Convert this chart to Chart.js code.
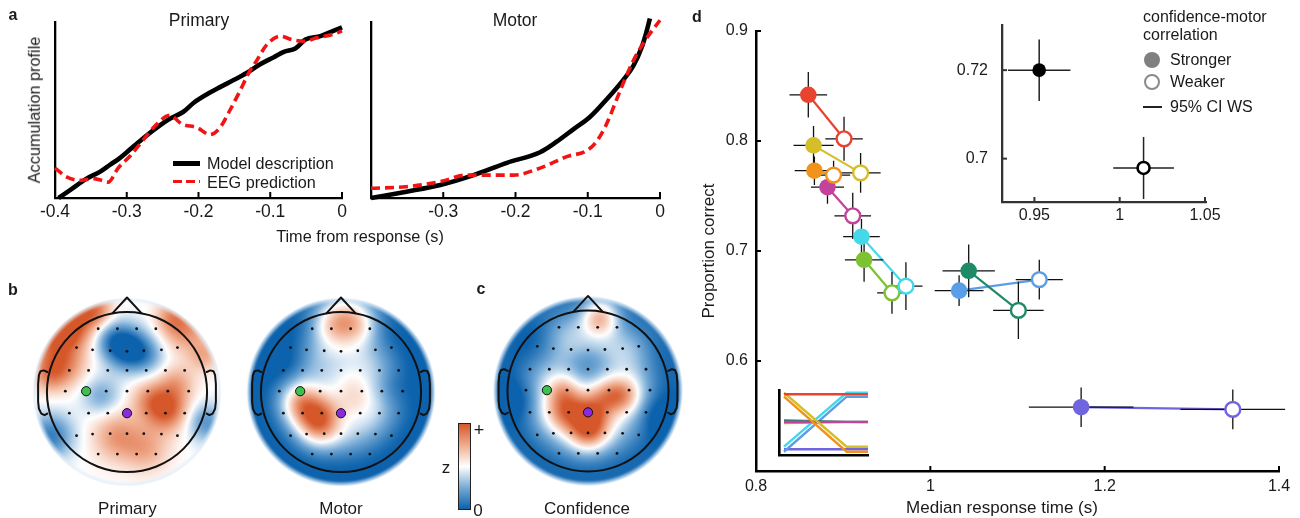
<!DOCTYPE html>
<html><head><meta charset="utf-8">
<script src="https://cdn.jsdelivr.net/npm/chart.js@4.4.1/dist/chart.umd.min.js"></script>
<style>
html,body{margin:0;padding:0;background:#fff;}
body{width:1300px;height:518px;position:relative;overflow:hidden;font-family:"Liberation Sans",Arial,Helvetica,sans-serif;color:#1a1a1a;}
canvas{position:absolute;}
.t{position:absolute;white-space:nowrap;line-height:1;}
.sw{position:absolute;}
</style></head><body>
<script>
// ================= DATA =================
// Panel a – Primary
const aTickVals = [-0.4, -0.3, -0.2, -0.1, 0];
const aTickLabelsPrimary = ['-0.4', '-0.3', '-0.2', '-0.1', '0'];
const aTickLabelsMotor = ['', '-0.3', '-0.2', '-0.1', '0'];
const primModelT = [-0.395,-0.379,-0.356,-0.337,-0.323,-0.312,-0.300,-0.277,-0.258,-0.240,-0.221,-0.207,-0.188,-0.170,-0.151,-0.133,-0.114,-0.095,-0.081,-0.065,-0.051,-0.030,-0.012,0];
const primModelV = [0.0,0.045,0.11,0.15,0.19,0.22,0.26,0.34,0.40,0.45,0.49,0.54,0.59,0.63,0.67,0.71,0.76,0.80,0.83,0.85,0.90,0.92,0.95,0.97];
const primEegT = [-0.4,-0.384,-0.365,-0.347,-0.335,-0.326,-0.312,-0.295,-0.277,-0.258,-0.240,-0.223,-0.202,-0.184,-0.170,-0.156,-0.142,-0.130,-0.119,-0.105,-0.086,-0.070,-0.053,-0.035,-0.012,0];
const primEegV = [0.17,0.12,0.10,0.11,0.10,0.09,0.17,0.24,0.33,0.42,0.47,0.42,0.40,0.36,0.40,0.50,0.61,0.71,0.78,0.87,0.92,0.90,0.89,0.91,0.93,0.95];
// Panel a – Motor
const motModelT = [-0.4,-0.351,-0.304,-0.258,-0.212,-0.166,-0.143,-0.120,-0.097,-0.074,-0.051,-0.037,-0.025,-0.019,-0.014];
const motModelV = [0,0.036,0.074,0.13,0.20,0.26,0.32,0.39,0.46,0.56,0.67,0.75,0.86,0.94,1.02];
const motEegT = [-0.4,-0.351,-0.304,-0.268,-0.235,-0.203,-0.166,-0.129,-0.101,-0.088,-0.074,-0.060,-0.049,-0.037,-0.023,-0.012,0];
const motEegV = [0.055,0.064,0.093,0.13,0.13,0.13,0.17,0.235,0.27,0.32,0.42,0.56,0.67,0.78,0.88,0.945,1.01];

// Panels b/c – electrode layout (head-normalised coordinates)
const elecX = [-0.36,-0.12,0.12,0.36, -0.63,-0.43,-0.21,0,0.21,0.43,0.63, -0.72,-0.48,-0.24,0,0.24,0.48,0.72,
               -0.77,-0.26,0,0.26,0.51,0.77, -0.72,-0.48,-0.24,0.24,0.48,0.72,
               -0.63,-0.43,-0.21,0,0.21,0.43,0.63, -0.36,-0.12,0.12,0.36];
const elecY = [0.79,0.79,0.79,0.79, 0.555,0.527,0.515,0.508,0.515,0.527,0.555, 0.27,0.27,0.27,0.27,0.27,0.27,0.27,
               0.01,0.01,0.01,0.01,0.01,0.01, -0.265,-0.265,-0.265,-0.265,-0.265,-0.265,
               -0.545,-0.525,-0.52,-0.52,-0.52,-0.525,-0.545, -0.775,-0.775,-0.775,-0.775];
const greenElec = [-0.51, 0.01];
const purpleElec = [0, -0.265];
const primBase = [0, 0, 0.5, 1.0];
const primSrcX = [0.0,-0.22,0.25,-0.32,0.5,0.28,0.62,-0.12,0.25,-0.8,-0.6,0.72,-0.95,0.98,-1.0,-0.78,-0.38,-0.98,0.55,0.97];
const primSrcY = [0.55,0.68,0.45,-0.05,-0.22,-0.08,0.12,-0.55,-0.72,0.35,0.88,0.78,-0.55,-0.38,0.6,0.75,1.02,0.2,0.95,0.45];
const primSrcA = [-1.1,-0.5,-0.45,-0.5,0.95,0.45,0.45,0.6,0.45,0.7,0.75,0.65,-0.8,-0.65,0.4,0.6,0.55,0.45,0.45,0.45];
const primSrcS = [0.19,0.17,0.17,0.17,0.19,0.17,0.16,0.22,0.2,0.2,0.22,0.2,0.2,0.17,0.2,0.16,0.14,0.15,0.14,0.14];
const motBase = [-0.3, -1.0, 0.45, 1.0];
const motSrcX = [-0.48,-0.28,-0.2,0.05,-0.17,0.27,0.2,-0.6,0.6,0.15];
const motSrcY = [-0.15,-0.42,-0.25,0.92,0.85,0.85,-0.1,0.3,0.05,0.15];
const motSrcA = [0.95,0.95,0.3,1.15,0.45,0.45,0.4,-0.35,-0.3,0.2];
const motSrcS = [0.19,0.19,0.15,0.22,0.18,0.18,0.2,0.2,0.18,0.2];
const confBase = [-0.3, -0.95, 0.5, 1.05];
const confSrcX = [-0.28,0.05,0.42,0.0,-0.32,0.2,0.15,0.0,-0.55,-0.3,0.55,-0.85,0.85];
const confSrcY = [-0.25,-0.3,-0.05,-0.52,0.02,-0.05,0.92,0.3,0.5,0.78,0.6,-0.1,-0.3];
const confSrcA = [1.0,0.95,0.9,0.85,0.6,0.5,1.25,-0.35,-0.2,0.3,0.25,-0.3,-0.3];
const confSrcS = [0.18,0.18,0.16,0.17,0.15,0.16,0.17,0.18,0.2,0.2,0.2,0.18,0.18];

// Panel d – groups (order: red, yellow, orange, magenta, lime, cyan, dark green, blue, purple)
const strongRT = [0.860,0.866,0.867,0.882,0.924,0.921,1.044,1.033,1.173];
const strongPC = [0.842,0.796,0.773,0.758,0.692,0.713,0.682,0.664,0.558];
const weakRT   = [0.901,0.920,0.889,0.911,0.956,0.972,1.101,1.125,1.347];
const weakPC   = [0.802,0.771,0.769,0.732,0.662,0.668,0.646,0.674,0.556];
const strongRTerr = [0.0216,0.023,0.0226,0.019,0.022,0.021,0.030,0.028,0.060];
const strongPCerr = [0.0207,0.0177,0.013,0.015,0.020,0.016,0.024,0.014,0.018];
const weakRTerr   = [0.0215,0.023,0.019,0.021,0.017,0.019,0.029,0.027,0.060];
const weakPCerr   = [0.020,0.018,0.013,0.021,0.019,0.0217,0.026,0.018,0.018];
const dXTicks = [0.8, 1.0, 1.2, 1.4];
const dXTickLabels = ['0.8', '1', '1.2', '1.4'];
const dYTicks = [0.6, 0.7, 0.8, 0.9];
const dYTickLabels = ['0.6', '0.7', '0.8', '0.9'];
// mini ranking legend (left value, right value) per group
const miniX = [0.056, 0.76, 1.0];
const miniLeft  = [0.934,0.958,0.897,0.51,0.49,0.128,0.53,0.05,0.088];
const miniRight = [0.934,0.128,0.05,0.51,0.505,0.958,0.51,0.897,0.088];
// inset (grand average)
const insetRT = [0.9528, 1.014];
const insetPC = [0.720, 0.6979];
const insetRTerr = [0.0183, 0.0178];
const insetPCerr = [0.00695, 0.007];
const insetXTicks = [0.95, 1.0, 1.05];
const insetXTickLabels = ['0.95', '1', '1.05'];
const insetYTicks = [0.70, 0.72];
const insetYTickLabels = ['0.7', '0.72'];

// ================= STYLE =================
const dColors = ['#e8432e','#d6be28','#f1921a','#c2439a','#7cc233','#45d8e8','#1f8a66','#5b9ee8','#7064e0'];
const FONT = '"Liberation Sans", Arial, Helvetica, sans-serif';
Chart.defaults.font.family = FONT;
Chart.defaults.color = '#1a1a1a';
const cmapStops = [[-1,[12,98,172]],[-0.5,[118,170,214]],[0,[255,255,255]],[0.5,[240,172,142]],[1,[214,88,42]]];
const pale = [226,238,250];

function mkCanvas(left, top, w, h){
  const c = document.createElement('canvas');
  c.width = w; c.height = h;
  c.style.left = left+'px'; c.style.top = top+'px'; c.style.width = w+'px'; c.style.height = h+'px';
  document.body.appendChild(c); return c;
}
function addText(txt, x, y, o={}){
  const d = document.createElement('div');
  d.className = 't'; d.textContent = txt;
  d.style.left = x+'px'; d.style.top = y+'px';
  d.style.fontSize = (o.size||16)+'px';
  if (o.bold) d.style.fontWeight = 'bold';
  const ax = o.align==='left' ? '0' : (o.align==='right' ? '-100%' : '-50%');
  d.style.transform = 'translate('+ax+',-50%)' + (o.rot ? ' rotate(-90deg)' : '');
  document.body.appendChild(d); return d;
}
function addBox(x, y, w, h, css){
  const d = document.createElement('div'); d.className='sw';
  d.style.left = x+'px'; d.style.top = y+'px'; d.style.width = w+'px'; d.style.height = h+'px';
  Object.assign(d.style, css); document.body.appendChild(d); return d;
}
const baseOpts = {responsive:false, animation:false, events:[], devicePixelRatio:1,
  plugins:{legend:{display:false}, tooltip:{enabled:false}, title:{display:false}}};

const inTicks = {
  id:'inTicks',
  afterDraw(chart, args, o){
    const {ctx, chartArea:a, scales} = chart;
    ctx.save(); ctx.strokeStyle = o.color||'#000'; ctx.lineWidth = o.width||2;
    (o.x||[]).forEach(v=>{const p = scales.x.getPixelForValue(v); ctx.beginPath(); ctx.moveTo(p, a.bottom); ctx.lineTo(p, a.bottom-o.len); ctx.stroke();});
    (o.y||[]).forEach(v=>{const p = scales.y.getPixelForValue(v); ctx.beginPath(); ctx.moveTo(a.left, p); ctx.lineTo(a.left+o.len, p); ctx.stroke();});
    ctx.restore();
  }
};
function smooth(e0,e1,x){const t=Math.min(1,Math.max(0,(x-e0)/(e1-e0)));return t*t*(3-2*t);}
function cmap(v){
  v = Math.max(-1, Math.min(1, v));
  for (let k=0;k<cmapStops.length-1;k++){
    const a=cmapStops[k][0], ca=cmapStops[k][1], b=cmapStops[k+1][0], cb=cmapStops[k+1][1];
    if (v<=b){const t=(v-a)/(b-a); return ca.map((c,i)=>c+(cb[i]-c)*t);}
  }
  return cmapStops[cmapStops.length-1][1];
}
const topoField = {
  id:'topoField',
  beforeDatasetsDraw(chart, args, o){
    const {ctx, chartArea:a, scales:{x,y}} = chart;
    const w = Math.round(a.right-a.left), h = Math.round(a.bottom-a.top);
    const off = document.createElement('canvas'); off.width=w; off.height=h;
    const octx = off.getContext('2d'); const img = octx.createImageData(w,h); const d = img.data;
    const ppu = x.getPixelForValue(1)-x.getPixelForValue(0);
    for (let j=0;j<h;j++){
      const vy = y.getValueForPixel(a.top+j+0.5);
      for (let i=0;i<w;i++){
        const vx = x.getValueForPixel(a.left+i+0.5);
        const r = Math.hypot(vx,vy); if (r>o.outer+0.03) continue;
        let v = o.base[0]+(o.base[1]-o.base[0])*smooth(o.base[2],o.base[3],r);
        for (let k=0;k<o.sx.length;k++){const dx=vx-o.sx[k], dy=vy-o.sy[k]; v += o.sa[k]*Math.exp(-(dx*dx+dy*dy)/(2*o.ss[k]*o.ss[k]));}
        let c = cmap(v); const t = smooth(o.fade, o.outer, r)*0.85;
        c = c.map((cc,q)=>cc+(pale[q]-cc)*t);
        const al = Math.max(0, Math.min(1, (o.outer-r)*ppu+0.5));
        const idx=(j*w+i)*4; d[idx]=c[0]; d[idx+1]=c[1]; d[idx+2]=c[2]; d[idx+3]=Math.round(al*255);
      }
    }
    octx.putImageData(img,0,0); ctx.drawImage(off, a.left, a.top);
  }
};
const earPts = [[0.995,0.25],[1.04,0.27],[1.08,0.26],[1.10,0.21],[1.11,0.1],[1.11,-0.12],[1.10,-0.21],[1.07,-0.27],[1.03,-0.29],[0.995,-0.27]];
const headOutline = {
  id:'headOutline',
  beforeDatasetsDraw(chart){
    const {ctx, scales:{x,y}} = chart;
    const P = (a,b)=>[x.getPixelForValue(a), y.getPixelForValue(b)];
    ctx.save(); ctx.strokeStyle='#111'; ctx.lineWidth=2; ctx.lineJoin='round'; ctx.lineCap='round';
    const [cx,cy] = P(0,0); const rx = x.getPixelForValue(1)-cx, ry = cy-y.getPixelForValue(1);
    ctx.beginPath(); ctx.ellipse(cx,cy,rx,ry,0,0,Math.PI*2); ctx.stroke();
    ctx.beginPath(); ctx.moveTo(...P(-0.18,0.985)); ctx.lineTo(...P(0,1.18)); ctx.lineTo(...P(0.18,0.985)); ctx.stroke();
    for (const s of [-1,1]){ ctx.beginPath(); earPts.forEach((q,i)=>{const p=P(s*q[0],q[1]); if(i) ctx.lineTo(...p); else ctx.moveTo(...p);}); ctx.stroke(); }
    ctx.restore();
  }
};

// ================= PANEL a =================
function pts(xs, ys){ return xs.map((v,i)=>({x:v, y:ys[i]})); }
function makeA(cl, ct, w, h, area, modelT, modelV, eegT, eegV, tickLabels){
  const c = mkCanvas(cl, ct, w, h);
  const L = area.left-cl, R = area.right-cl, T = area.top-ct, B = area.bottom-ct;
  new Chart(c, {
    type:'scatter',
    data:{datasets:[
      {label:'EEG prediction', data:pts(eegT,eegV), showLine:true, borderColor:'#f01414', borderWidth:3.6, borderDash:[9,5], borderCapStyle:'butt', pointRadius:0, cubicInterpolationMode:'monotone', clip:false, order:0},
      {label:'Model description', data:pts(modelT,modelV), showLine:true, borderColor:'#000', borderWidth:4.6, pointRadius:0, cubicInterpolationMode:'monotone', clip:false, order:1}
    ]},
    options:Object.assign({}, baseOpts, {
      layout:{padding:{left:0, top:T, right:w-R, bottom:0}},
      scales:{
        x:{type:'linear', min:-0.4, max:0, grid:{display:false, drawTicks:false}, border:{display:true, color:'#000', width:2.3},
           afterBuildTicks:s=>{s.ticks = aTickVals.map(v=>({value:v}));},
           ticks:{padding:4, font:{size:17.5, family:FONT}, color:'#1a1a1a', autoSkip:false, maxRotation:0, callback:(v,i)=>tickLabels[i]},
           afterFit:s=>{s.height = h-B;}},
        y:{type:'linear', min:0, max:1, grid:{display:false, drawTicks:false}, border:{display:true, color:'#000', width:2.3},
           ticks:{display:false}, afterFit:s=>{s.width = L;}}
      },
      plugins:Object.assign({}, baseOpts.plugins, {inTicks:{x:aTickVals, len:6, width:2, color:'#000'}})
    }),
    plugins:[inTicks]
  });
}
makeA(0, 0, 360, 245, {left:55, right:342, top:22, bottom:198}, primModelT, primModelV, primEegT, primEegV, aTickLabelsPrimary);
makeA(345, 0, 335, 245, {left:371, right:660, top:22, bottom:198}, motModelT, motModelV, motEegT, motEegV, aTickLabelsMotor);

addText('a', 13, 15, {size:16, bold:true});
addText('Primary', 199, 21, {size:17.5});
addText('Motor', 515, 21, {size:17.5});
addText('Accumulation profile', 33.5, 110, {size:16.3, rot:true});
addText('Time from response (s)', 360, 236, {size:16.3});
addBox(173, 161, 27, 4.6, {background:'#000'});
addBox(173, 179.5, 27, 3.8, {background:'repeating-linear-gradient(to right,#f01414 0 9px,transparent 9px 13px)'});
addText('Model description', 207, 163, {size:16.2, align:'left'});
addText('EEG prediction', 207, 181.5, {size:16.2, align:'left'});

// ================= PANELS b / c =================
function makeTopo(cx, cy, R, base, sx, sy, sa, ss){
  const W = 240, H = 240;
  const c = mkCanvas(Math.round(cx-W/2), Math.round(cy-H/2), W, H);
  new Chart(c, {
    type:'scatter',
    data:{datasets:[
      {data:[{x:greenElec[0], y:greenElec[1]}], pointRadius:4.6, pointBackgroundColor:'#3fbf4f', pointBorderColor:'#111', pointBorderWidth:1},
      {data:[{x:purpleElec[0], y:purpleElec[1]}], pointRadius:4.6, pointBackgroundColor:'#8a2be2', pointBorderColor:'#111', pointBorderWidth:1},
      {data:pts(elecX, elecY), pointRadius:1.4, pointBackgroundColor:'#111', pointBorderWidth:0}
    ]},
    options:Object.assign({}, baseOpts, {
      layout:{padding:0},
      scales:{
        x:{type:'linear', display:false, min:-(W/2)/R, max:(W/2)/R},
        y:{type:'linear', display:false, min:-(H/2)/R, max:(H/2)/R}
      },
      plugins:Object.assign({}, baseOpts.plugins, {topoField:{base, sx, sy, sa, ss, fade:1.1, outer:1.17}})
    }),
    plugins:[topoField, headOutline]
  });
}
makeTopo(127.4, 391.5, 84, primBase, primSrcX, primSrcY, primSrcA, primSrcS);
makeTopo(341, 392, 84, motBase, motSrcX, motSrcY, motSrcA, motSrcS);
makeTopo(588, 391, 84.5, confBase, confSrcX, confSrcY, confSrcA, confSrcS);
addText('b', 13, 290, {size:16, bold:true});
addText('c', 481, 289, {size:16, bold:true});
addText('Primary', 127.4, 508, {size:17});
addText('Motor', 341, 508, {size:17});
addText('Confidence', 587, 508, {size:17});
addBox(458, 423, 11, 85, {border:'1px solid #222', background:'linear-gradient(to bottom, rgb(214,88,42) 0%, rgb(240,172,142) 25%, #fff 50%, rgb(118,170,214) 75%, rgb(12,98,172) 100%)'});
addText('+', 479, 430, {size:18});
addText('0', 478, 510, {size:17});
addText('z', 446, 467, {size:17});

// ================= PANEL d =================
(function(){
  const cl=690, ct=0, w=610, h=518, area={left:756, right:1279, top:31, bottom:471};
  const c = mkCanvas(cl, ct, w, h);
  const L=area.left-cl, R=area.right-cl, T=area.top-ct, B=area.bottom-ct;
  const errPts = [];
  function addErr(x, y, ex, ey){
    errPts.push({x:x-ex, y:y}, {x:x+ex, y:y}, {x:x, y:null}, {x:x, y:y-ey}, {x:x, y:y+ey}, {x:x, y:null});
  }
  strongRT.forEach((v,i)=>addErr(v, strongPC[i], strongRTerr[i], strongPCerr[i]));
  weakRT.forEach((v,i)=>addErr(v, weakPC[i], weakRTerr[i], weakPCerr[i]));
  const ds = [
    {label:'Weaker', data:pts(weakRT, weakPC), pointRadius:7.4, pointBorderWidth:2.4, pointBackgroundColor:'#fff', pointBorderColor:dColors, clip:false, order:0},
    {label:'Stronger', data:pts(strongRT, strongPC), pointRadius:8.3, pointBorderWidth:0, pointBackgroundColor:dColors, pointBorderColor:dColors, clip:false, order:1},
    {label:'95% CI WS', data:errPts, showLine:true, spanGaps:false, borderColor:'#111', borderWidth:1.3, pointRadius:0, clip:false, order:2}
  ];
  strongRT.forEach((v,i)=>ds.push({data:[{x:v, y:strongPC[i]}, {x:weakRT[i], y:weakPC[i]}], showLine:true, borderColor:dColors[i], borderWidth:2.2, pointRadius:0, clip:false, order:3}));
  new Chart(c, {
    type:'scatter', data:{datasets:ds},
    options:Object.assign({}, baseOpts, {
      layout:{padding:{left:0, top:T, right:w-R, bottom:0}},
      scales:{
        x:{type:'linear', min:0.8, max:1.4, grid:{display:false, drawTicks:false}, border:{display:true, color:'#000', width:2.5},
           afterBuildTicks:s=>{s.ticks = dXTicks.map(v=>({value:v}));},
           ticks:{padding:6, font:{size:16, family:FONT}, color:'#1a1a1a', autoSkip:false, maxRotation:0, callback:(v,i)=>dXTickLabels[i]},
           afterFit:s=>{s.height = h-B;}},
        y:{type:'linear', min:0.5, max:0.9, grid:{display:false, drawTicks:false}, border:{display:true, color:'#000', width:2.5},
           afterBuildTicks:s=>{s.ticks = dYTicks.map(v=>({value:v}));},
           ticks:{padding:8, font:{size:16, family:FONT}, color:'#1a1a1a', autoSkip:false, callback:(v,i)=>dYTickLabels[i]},
           afterFit:s=>{s.width = L;}}
      },
      plugins:Object.assign({}, baseOpts.plugins, {inTicks:{x:dXTicks, y:dYTicks, len:5, width:2, color:'#000'}})
    }),
    plugins:[inTicks]
  });
})();

// mini ranking legend
(function(){
  const cl=770, ct=385, w=105, h=75, area={left:779, right:868, top:390, bottom:455};
  const c = mkCanvas(cl, ct, w, h);
  const L=area.left-cl, R=area.right-cl, T=area.top-ct, B=area.bottom-ct;
  const ds = miniLeft.map((lv,i)=>({data:pts(miniX, [lv, miniRight[i], miniRight[i]]), showLine:true, borderColor:dColors[i], borderWidth:2.4, pointRadius:0, clip:false}));
  new Chart(c, {
    type:'scatter', data:{datasets:ds},
    options:Object.assign({}, baseOpts, {
      layout:{padding:{left:0, top:T, right:w-R, bottom:0}},
      scales:{
        x:{type:'linear', min:0, max:1, grid:{display:false, drawTicks:false}, border:{display:true, color:'#000', width:2.6}, ticks:{display:false}, afterFit:s=>{s.height=h-B;}},
        y:{type:'linear', min:0, max:1, grid:{display:false, drawTicks:false}, border:{display:true, color:'#000', width:2.6}, ticks:{display:false}, afterFit:s=>{s.width=L;}}
      }
    })
  });
})();

// inset
(function(){
  const cl=955, ct=0, w=275, h=240, area={left:1002, right:1206, top:25, bottom:202};
  const c = mkCanvas(cl, ct, w, h);
  const L=area.left-cl, R=area.right-cl, T=area.top-ct, B=area.bottom-ct;
  const errPts = [];
  insetRT.forEach((x,i)=>{const y=insetPC[i], ex=insetRTerr[i], ey=insetPCerr[i];
    errPts.push({x:x-ex,y:y},{x:x+ex,y:y},{x:x,y:null},{x:x,y:y-ey},{x:x,y:y+ey},{x:x,y:null});});
  new Chart(c, {
    type:'scatter',
    data:{datasets:[
      {label:'Stronger', data:[{x:insetRT[0], y:insetPC[0]}], pointRadius:6.8, pointBackgroundColor:'#000', pointBorderWidth:0, clip:false, order:0},
      {label:'Weaker', data:[{x:insetRT[1], y:insetPC[1]}], pointRadius:6, pointBackgroundColor:'#fff', pointBorderColor:'#000', pointBorderWidth:2.6, clip:false, order:0},
      {label:'CI', data:errPts, showLine:true, spanGaps:false, borderColor:'#222', borderWidth:1.5, pointRadius:0, clip:false, order:2}
    ]},
    options:Object.assign({}, baseOpts, {
      layout:{padding:{left:0, top:T, right:w-R, bottom:0}},
      scales:{
        x:{type:'linear', min:0.931, max:1.0506, grid:{display:false, drawTicks:false}, border:{display:true, color:'#333', width:2.3},
           afterBuildTicks:s=>{s.ticks = insetXTicks.map(v=>({value:v}));},
           ticks:{padding:3.5, font:{size:16, family:FONT}, color:'#1a1a1a', autoSkip:false, maxRotation:0, callback:(v,i)=>insetXTickLabels[i]},
           afterFit:s=>{s.height=h-B;}},
        y:{type:'linear', min:0.6902, max:0.7302, grid:{display:false, drawTicks:false}, border:{display:true, color:'#333', width:2.3},
           afterBuildTicks:s=>{s.ticks = insetYTicks.map(v=>({value:v}));},
           ticks:{padding:14, font:{size:16, family:FONT}, color:'#1a1a1a', autoSkip:false, callback:(v,i)=>insetYTickLabels[i]},
           afterFit:s=>{s.width=L;}}
      },
      plugins:Object.assign({}, baseOpts.plugins, {inTicks:{x:insetXTicks, y:insetYTicks, len:5, width:2, color:'#333'}})
    }),
    plugins:[inTicks]
  });
})();

addText('d', 697, 17, {size:16, bold:true});
addText('Proportion correct', 708, 251, {size:17, rot:true});
addText('Median response time (s)', 1002, 507, {size:17});
addText('confidence-motor', 1143, 17, {size:16, align:'left'});
addText('correlation', 1143, 35, {size:16, align:'left'});
addBox(1144, 52, 16, 16, {background:'#808080', borderRadius:'50%'});
addText('Stronger', 1170, 60, {size:16, align:'left'});
addBox(1144, 74, 12, 12, {background:'#fff', border:'2.4px solid #8a8a8a', borderRadius:'50%'});
addText('Weaker', 1170, 82, {size:16, align:'left'});
addBox(1143, 106.3, 19, 1.6, {background:'#222'});
addText('95% CI WS', 1170, 107, {size:16, align:'left'});
</script>
</body></html>
